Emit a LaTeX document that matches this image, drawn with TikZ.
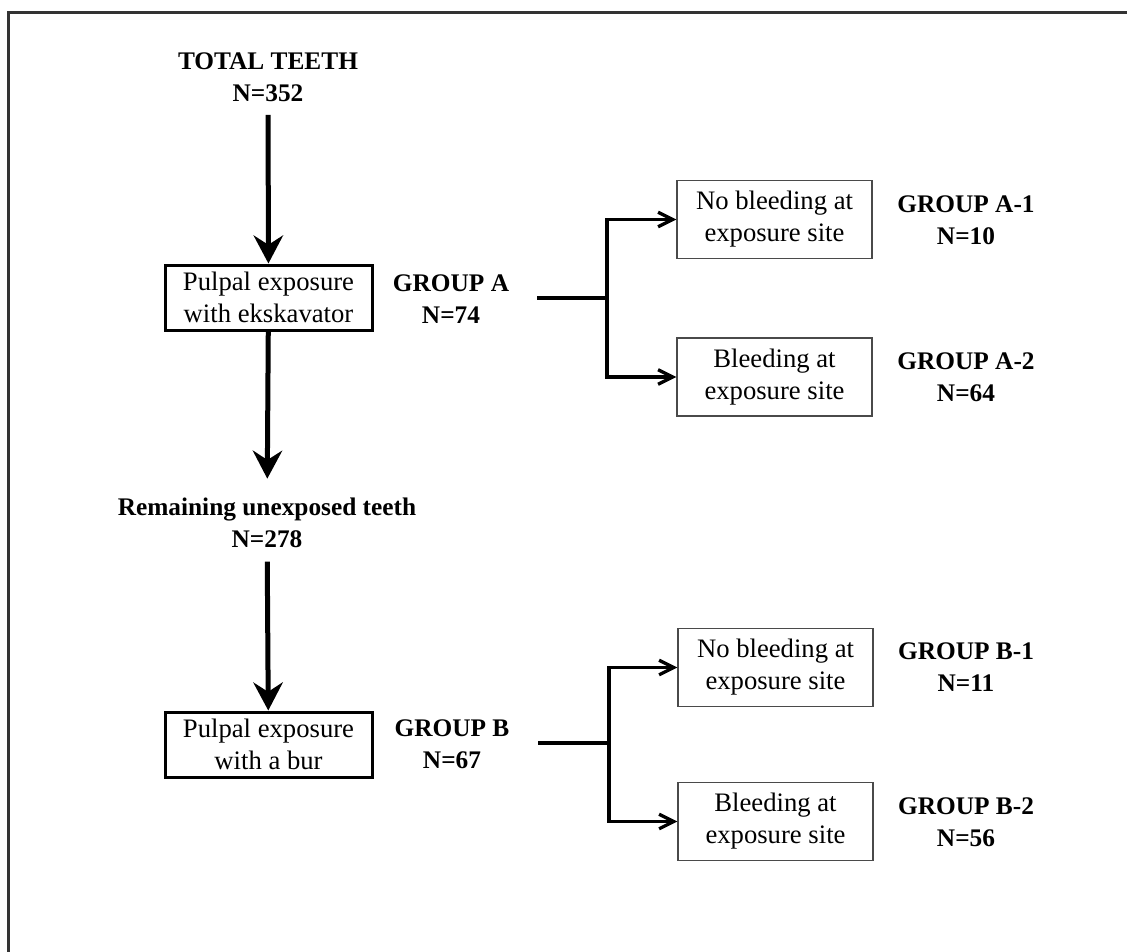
\documentclass[tikz,border=0pt]{standalone}
\usepackage{fontspec}
\setmainfont{Liberation Serif}
\usetikzlibrary{arrows.meta}
\definecolor{boxgray}{HTML}{4A4A4A}
\definecolor{framegray}{HTML}{333333}
\begin{document}
\begin{tikzpicture}[x=0.75pt,y=-0.75pt,
  every node/.append style={font=\fontsize{20}{24}\selectfont},
  bigbox/.style={draw=black, line width=2.25pt, minimum width=155.25pt, minimum height=48.75pt, align=center, inner sep=0pt},
  smallbox/.style={draw=boxgray, line width=1.1pt, minimum width=146pt, minimum height=58.5pt, align=center, inner sep=0pt},
  lbl/.style={font=\fontsize{19}{24}\selectfont\bfseries, align=center, inner sep=0pt},
  mainarrow/.style={line width=3.75pt, -{Stealth[length=21pt,width=22pt,inset=7pt]}},
  branch/.style={line width=2.5pt},
  brancharrow/.style={branch, -{Straight Barb[length=11pt,width=11pt]}}
]
\useasboundingbox (0,0) rectangle (1127,952);
% frame
\draw[framegray, line width=1.6pt] (1140,12.5) -- (8.5,12.5) -- (8.5,970);

% main column
\node[lbl] (total) at (268,77) {TOTAL TEETH\\N=352};
\node[bigbox] (boxA) at (268.5,297.5) {Pulpal exposure\\with ekskavator};
\node[lbl] (gA) at (451,299) {GROUP A\\N=74};
\node[lbl] (remain) at (267,522.5) {Remaining unexposed teeth\\N=278};
\node[bigbox] (boxB) at (268.5,744.5) {Pulpal exposure\\with a bur};
\node[lbl] (gB) at (452,744.5) {GROUP B\\N=67};

% right boxes
\node[smallbox] (a1) at (774.5,219.5) {No bleeding at\\exposure site};
\node[smallbox] (a2) at (774.5,377) {Bleeding at\\exposure site};
\node[smallbox] (b1) at (775.5,667.5) {No bleeding at\\exposure site};
\node[smallbox] (b2) at (775.5,821.5) {Bleeding at\\exposure site};

\node[lbl] (ga1) at (966,220.5) {GROUP A-1\\N=10};
\node[lbl] (ga2) at (966,377.5) {GROUP A-2\\N=64};
\node[lbl] (gb1) at (966,667.5) {GROUP B-1\\N=11};
\node[lbl] (gb2) at (966,822.5) {GROUP B-2\\N=56};

% main arrows
\draw[mainarrow, shorten <=9.75pt] (total) -- (boxA);
\draw[mainarrow, shorten >=14pt] (boxA) -- (remain);
\draw[mainarrow, shorten <=10.5pt] (remain) -- (boxB);

% branches
\coordinate (sA) at (537,298);
\coordinate (jA) at (607,298);
\coordinate (sB) at (538,743);
\coordinate (jB) at (609,743);
\draw[branch] (sA) -- (jA);
\draw[brancharrow] (jA) |- (a1.west);
\draw[brancharrow] (jA) |- (a2.west);
\draw[branch] (sB) -- (jB);
\draw[brancharrow] (jB) |- (b1.west);
\draw[brancharrow] (jB) |- (b2.west);
\end{tikzpicture}
\end{document}
